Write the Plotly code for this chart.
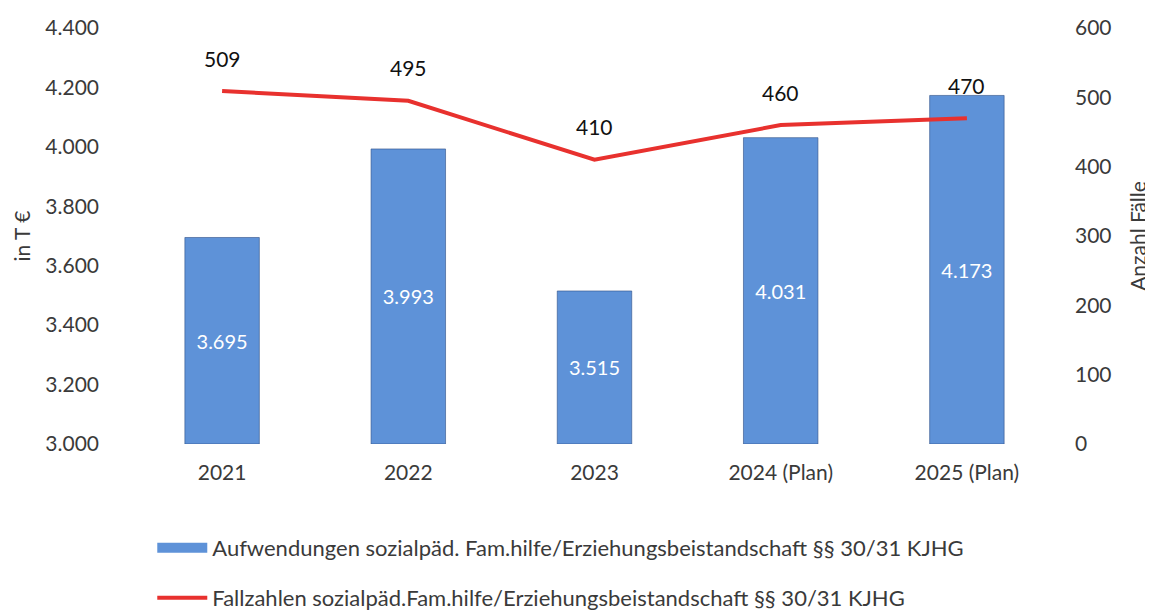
import plotly.graph_objects as go

categories = ["2021", "2022", "2023", "2024 (Plan)", "2025 (Plan)"]
aufwendungen = [3695, 3993, 3515, 4031, 4173]
fallzahlen = [509, 495, 410, 460, 470]
bar_name = "Aufwendungen sozialpäd. Fam.hilfe/Erziehungsbeistandschaft §§ 30/31 KJHG"
line_name = "Fallzahlen sozialpäd.Fam.hilfe/Erziehungsbeistandschaft §§ 30/31 KJHG"
axis_min = 3000

FONT = "Lato, Open Sans, sans-serif"
GREY = "#3a3a3a"
BLUE = "#5e92d8"
RED = "#e8312e"
idx = list(range(len(categories)))

fig = go.Figure()
fig.add_trace(go.Bar(
    x=idx, y=[v - axis_min for v in aufwendungen], base=axis_min, name=bar_name,
    marker=dict(color=BLUE, line=dict(color="#2d4f86", width=0.6)),
    text=[f"{v:,}".replace(",", ".") for v in aufwendungen],
    textposition="inside", insidetextanchor="middle",
    textfont=dict(color="white", size=20, family=FONT),
    showlegend=False,
))
# legend entry for the bars (wide rectangle swatch)
fig.add_trace(go.Scatter(
    x=[None], y=[None], name=bar_name, mode="lines",
    line=dict(color=BLUE, width=10), legend="legend",
))
fig.add_trace(go.Scatter(
    x=idx, y=fallzahlen, name=line_name, yaxis="y2",
    mode="lines", line=dict(color=RED, width=4),
    legend="legend2",
))
for i, v in zip(idx, fallzahlen):
    fig.add_annotation(x=i, y=v, yref="y2", text=str(v), showarrow=False,
                       yshift=33, font=dict(size=21, color="#111", family=FONT))

fig.update_layout(
    width=1153, height=614,
    margin=dict(l=121, r=101, t=20, b=178, autoexpand=False),
    paper_bgcolor="white", plot_bgcolor="white",
    separators=",.",
    font=dict(family=FONT, size=21, color=GREY),
    bargap=0.60,
    xaxis=dict(range=[-0.5, 4.5], tickmode="array", tickvals=idx, ticktext=categories,
               showgrid=False, showline=False, zeroline=False, ticks="", automargin=False,
               tickfont=dict(size=21, color=GREY), ticklabelstandoff=14),
    yaxis=dict(range=[3000, 4400], dtick=200, tickformat=",.0f", showgrid=False, zeroline=False,
               showline=False, ticks="", tickfont=dict(size=21, color=GREY), ticklabelstandoff=29,
               automargin=False,
               title=dict(text="in T €", font=dict(size=21, color=GREY), standoff=8)),
    yaxis2=dict(range=[0, 600], dtick=100, overlaying="y", side="right", showgrid=False,
                zeroline=False, showline=False, ticks="", tickfont=dict(size=21, color=GREY),
                ticklabelstandoff=14, automargin=False,
                title=dict(text="Anzahl Fälle", font=dict(size=21, color=GREY), standoff=20)),
    legend=dict(x=0.025, xanchor="left", yref="container", y=0.1547, yanchor="top",
                orientation="h", font=dict(size=22, color=GREY), itemwidth=50,
                bgcolor="rgba(0,0,0,0)"),
    legend2=dict(x=0.025, xanchor="left", yref="container", y=0.0733, yanchor="top",
                 orientation="h", font=dict(size=22, color=GREY), itemwidth=50,
                 bgcolor="rgba(0,0,0,0)"),
    showlegend=True,
)

fig.write_html("out.html")
